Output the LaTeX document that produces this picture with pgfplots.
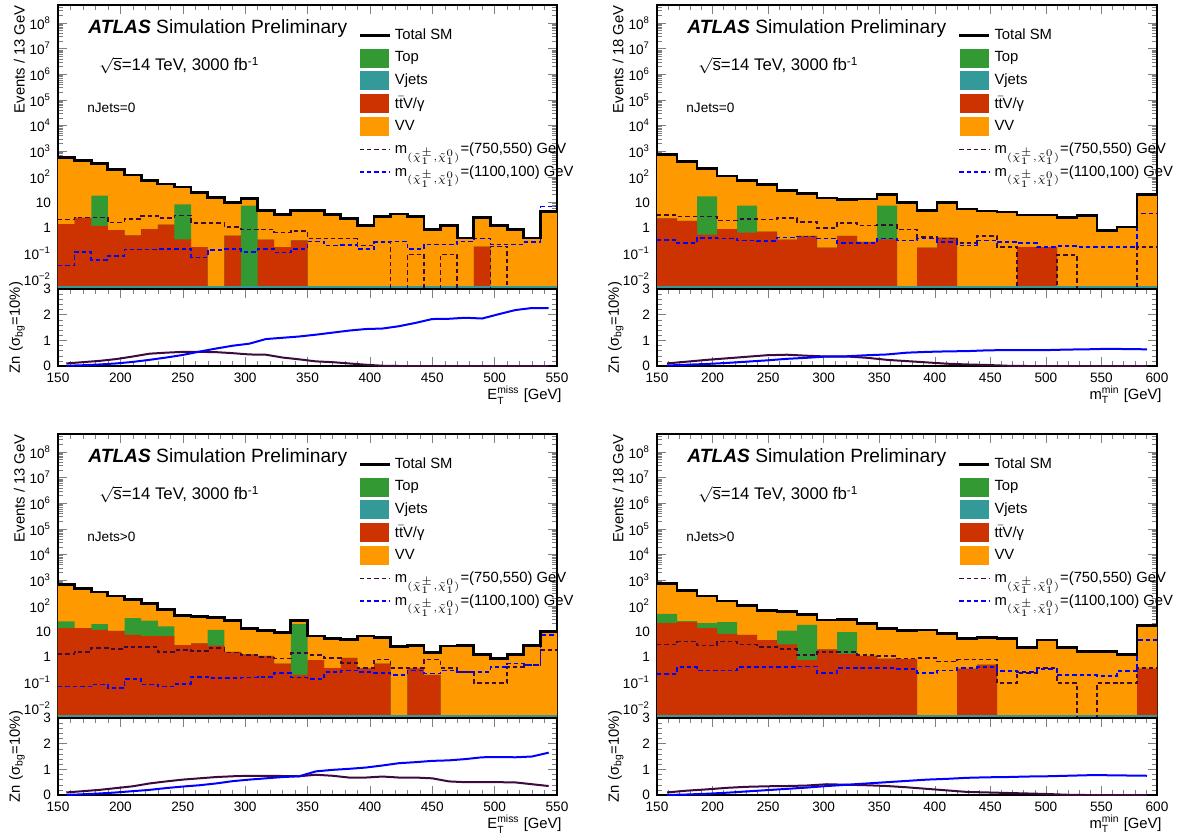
\documentclass[border=0pt]{standalone}
\usepackage{amsmath}
\usepackage{fontspec}
\setmainfont{Liberation Sans}
\usepackage{pgfplots}
\pgfplotsset{compat=1.18}
\usepackage{pgfplotstable}
\pgfkeys{/pgf/number format/assume math mode=true}

\definecolor{cVV}{RGB}{255,153,0}
\definecolor{cTTV}{RGB}{204,51,0}
\definecolor{cTop}{RGB}{51,153,51}
\definecolor{cVj}{RGB}{51,153,153}
\definecolor{cSA}{RGB}{60,10,60}
\definecolor{cSB}{RGB}{0,0,255}

\newcommand{\ex}[1]{10\textsuperscript{#1}}
\newcommand{\fs}[1]{\fontsize{#1}{#1}\selectfont}

\pgfplotstableread{
x tot grn red sa sb
150.00 580 1.41 1.41 2.15 0.035
163.33 430 2.5 2.5 2.6 0.117
176.67 318 18.3 1.22 2.6 0.058
190.00 191 0.82 0.82 1.64 0.081
203.33 118 0.52 0.52 2.2 0.147
216.67 71 0.90 0.90 3.0 0.147
230.00 52 1.37 1.37 2.4 0.15
243.33 40 8.3 0.36 3.1 0.15
256.67 25 0.18 0.18 1.58 0.072
270.00 15.7 1e-5 1e-5 1.58 0.14
283.33 9.7 0.51 0.51 1.11 0.15
296.67 14.3 7.4 1e-5 0.87 0.117
310.00 4.7 0.35 0.35 0.87 0.15
323.33 3.4 0.18 0.18 0.67 0.11
336.67 5.0 0.33 0.33 0.76 0.15
350.00 4.9 1e-5 1e-5 0.39 0.30
363.33 3.4 1e-5 1e-5 0.39 0.21
376.67 2.4 1e-5 1e-5 0.39 0.22
390.00 1.22 1e-5 1e-5 0.21 0.15
403.33 2.9 1e-5 1e-5 0.27 0.28
416.67 3.5 1e-5 1e-5 1e-5 0.30
430.00 2.9 1e-5 1e-5 0.094 0.15
443.33 0.85 1e-5 1e-5 1e-5 0.23
456.67 1.22 1e-5 1e-5 0.094 0.23
470.00 0.41 1e-5 1e-5 1e-5 0.30
483.33 2.5 0.19 0.19 1e-5 0.39
496.67 1.29 1e-5 1e-5 0.19 0.23
510.00 0.88 1e-5 1e-5 1e-5 0.23
523.33 0.41 1e-5 1e-5 1e-5 0.28
536.67 4.3 1e-5 1e-5 1e-5 6.8
550.00 4.3 1e-5 1e-5 1e-5 6.8
}\tabTL

\pgfplotstableread{
x zb zp
156.67 0.01 0.10
170.00 0.03 0.15
183.33 0.06 0.20
196.67 0.10 0.27
210.00 0.16 0.37
223.33 0.24 0.48
236.67 0.33 0.52
250.00 0.43 0.55
263.33 0.56 0.55
276.67 0.68 0.54
290.00 0.79 0.50
303.33 0.87 0.45
316.67 1.05 0.44
330.00 1.10 0.33
343.33 1.15 0.26
356.67 1.22 0.18
370.00 1.30 0.15
383.33 1.38 0.10
396.67 1.44 0.05
410.00 1.46 0.01
423.33 1.55 0
436.67 1.68 0
450.00 1.83 0
463.33 1.84 0
476.67 1.88 0
490.00 1.85 0
503.33 2.02 0
516.67 2.18 0
530.00 2.26 0
543.33 2.26 0
}\znTL

\pgfplotstableread{
x tot grn red sa sb
150 760 2.4 2.4 3.2 0.35
168 380 1.9 1.9 2.8 0.26
186 210 17 0.55 2.8 0.41
204 106 0.9 0.9 2.0 0.39
222 73 7.5 0.66 2.2 0.33
240 49 0.72 0.72 2.15 0.31
258 29 0.35 0.35 2.5 0.42
276 22.5 0.49 0.49 1.76 0.47
294 14.7 0.17 0.17 0.98 0.39
312 12.6 0.49 0.49 1.6 0.26
330 13.6 0.285 0.285 1.25 0.26
348 19.8 7.5 0.36 1.3 0.39
366 10.2 1e-5 1e-5 0.88 0.33
384 5.0 0.17 0.17 0.45 0.39
402 10 0.42 0.42 0.39 0.29
420 5.5 1e-5 1e-5 0.26 0.21
438 4.6 1e-5 1e-5 0.5 0.33
456 4.2 1e-5 1e-5 0.18 0.29
474 3.2 0.18 0.18 1e-5 0.26
492 3.2 0.18 0.18 1e-5 0.18
510 2.6 1e-5 1e-5 0.09 0.2
528 3.0 1e-5 1e-5 1e-5 0.18
546 0.78 1e-5 1e-5 1e-5 0.18
564 1.1 1e-5 1e-5 1e-5 0.18
582 19.8 1e-5 1e-5 0.18 3.7
600 19.8 1e-5 1e-5 0.18 3.7
}\tabTR

\pgfplotstableread{
x zb zp
159 0.02 0.10
177 0.05 0.17
195 0.08 0.24
213 0.12 0.30
231 0.17 0.36
249 0.22 0.42
267 0.28 0.44
285 0.32 0.40
303 0.37 0.37
321 0.38 0.37
339 0.42 0.32
357 0.45 0.24
375 0.52 0.19
393 0.55 0.14
411 0.57 0.09
429 0.58 0.06
447 0.61 0.04
465 0.62 0.01
483 0.62 0
501 0.62 0
519 0.64 0
537 0.65 0
555 0.67 0
573 0.66 0
591 0.65 0
}\znTR

\pgfplotstableread{
x tot grn red sa sb
150.00 690 24.6 13.4 1.29 0.07
163.33 480 13.4 13.4 1.6 0.07
176.67 345 19.2 11.5 2.2 0.084
190.00 240 10.5 10.5 2.1 0.063
203.33 176 33 7.3 2.5 0.14
216.67 119 26 6.6 2.4 0.084
230.00 71 15.6 6.6 1.6 0.072
243.33 42 2.9 2.9 1.9 0.09
256.67 39 3.4 3.4 1.7 0.17
270.00 35 11.5 2.8 2.2 0.15
283.33 27 1.6 1.6 1.5 0.15
296.67 13.4 1.26 1.26 1.2 0.16
310.00 10.8 1.1 1.1 1.02 0.17
323.33 9.0 0.55 0.55 0.87 0.24
336.67 27 19.2 0.2 1.4 0.16
350.00 6.6 0.75 0.75 1.2 0.14
363.33 5.4 0.37 0.37 0.93 0.26
376.67 5.0 0.93 0.93 0.6 0.30
390.00 6.6 0.36 0.36 0.37 0.26
403.33 5.9 0.55 0.55 0.8 0.24
416.67 2.5 1e-5 1e-5 0.38 0.2
430.00 2.9 0.36 0.36 0.38 0.3
443.33 1.5 0.2 0.2 0.8 0.23
456.67 2.7 1e-5 1e-5 0.38 0.3
470.00 2.9 1e-5 1e-5 0.26 0.26
483.33 1.26 1e-5 1e-5 0.095 0.26
496.67 0.87 1e-5 1e-5 0.095 0.41
510.00 1.26 1e-5 1e-5 0.4 0.55
523.33 2.9 1e-5 1e-5 0.5 0.5
536.67 10 1e-5 1e-5 1.9 7.3
550.00 10 1e-5 1e-5 1.9 7.3
}\tabBL

\pgfplotstableread{
x zb zp
156.67 0.00 0.10
170.00 0.03 0.15
183.33 0.06 0.20
196.67 0.10 0.27
210.00 0.15 0.34
223.33 0.20 0.45
236.67 0.27 0.53
250.00 0.33 0.60
263.33 0.38 0.65
276.67 0.45 0.70
290.00 0.54 0.73
303.33 0.60 0.75
316.67 0.65 0.75
330.00 0.70 0.74
343.33 0.73 0.73
356.67 0.92 0.79
370.00 0.98 0.75
383.33 1.02 0.68
396.67 1.07 0.68
410.00 1.15 0.72
423.33 1.24 0.68
436.67 1.28 0.68
450.00 1.33 0.65
463.33 1.35 0.53
476.67 1.40 0.50
490.00 1.47 0.50
503.33 1.48 0.50
516.67 1.47 0.49
530.00 1.50 0.42
543.33 1.65 0.35
}\znBL

\pgfplotstableread{
x tot grn red sa sb
150 760 48 21 3.1 0.22
168 400 25 23 4.0 0.41
186 240 21 13.4 2.8 0.3
204 152 23 8 4.0 0.3
222 102 7.3 7.3 3.1 0.41
240 65 4.6 4.6 2.5 0.41
258 58 10.8 3.1 2.1 0.41
276 45 18 0.75 1.18 0.43
294 28 2.0 2.0 1.6 0.24
312 30 9.3 1.3 1.6 0.38
330 20 1.1 1.1 1.18 0.38
348 13 0.87 0.87 1.1 0.38
366 10.5 0.83 0.83 0.87 0.34
384 11.3 1e-5 1e-5 0.93 0.24
402 8 1e-5 1e-5 0.68 0.3
420 5.1 0.35 0.35 0.8 0.38
438 5.8 0.5 0.5 0.8 0.41
456 5.4 1e-5 1e-5 0.095 0.28
474 2.4 1e-5 1e-5 0.24 0.26
492 4.6 1e-5 1e-5 0.38 0.34
510 2.4 1e-5 1e-5 0.095 0.2
528 1.6 1e-5 1e-5 1e-5 0.2
546 1.6 1e-5 1e-5 0.095 0.18
564 1.26 1e-5 1e-5 0.095 0.28
582 16.5 0.35 0.35 0.38 4.6
600 16.5 0.35 0.35 0.38 4.6
}\tabBR

\pgfplotstableread{
x zb zp
159 0.00 0.10
177 0.02 0.17
195 0.05 0.22
213 0.09 0.28
231 0.14 0.32
249 0.19 0.34
267 0.24 0.35
285 0.29 0.37
303 0.35 0.42
321 0.40 0.40
339 0.45 0.38
357 0.50 0.35
375 0.55 0.30
393 0.60 0.24
411 0.63 0.18
429 0.67 0.12
447 0.69 0.10
465 0.70 0.08
483 0.72 0.06
501 0.73 0.04
519 0.75 0.01
537 0.77 0
555 0.77 0
573 0.76 0
591 0.75 0
}\znBR

\newcommand{\msub}{m$_{\scriptscriptstyle(\tilde{\chi}^{\pm}_{1},\tilde{\chi}^{0}_{1})}$}

\newcommand{\mainextras}[1]{%
  \addlegendimage{legend image code/.code={\draw[black,line width=1.3pt] (0pt,0pt)--(15pt,0pt);}}
  \addlegendentry{Total SM}
  \addlegendimage{legend image code/.code={\fill[cTop] (0.5pt,-4.5pt) rectangle (14.5pt,4.5pt);}}
  \addlegendentry{Top}
  \addlegendimage{legend image code/.code={\fill[cVj] (0.5pt,-4.5pt) rectangle (14.5pt,4.5pt);}}
  \addlegendentry{Vjets}
  \addlegendimage{legend image code/.code={\fill[cTTV] (0.5pt,-4.5pt) rectangle (14.5pt,4.5pt);}}
  \addlegendentry{t$\bar{\text{t}}$V/γ}
  \addlegendimage{legend image code/.code={\fill[cVV] (0.5pt,-4.5pt) rectangle (14.5pt,4.5pt);}}
  \addlegendentry{VV}
  \addlegendimage{legend image code/.code={\draw[cSA,line width=0.8pt,dash pattern=on 2.2pt off 1.5pt] (0pt,0pt)--(15pt,0pt);}}
  \addlegendentry{\msub=(750,550) GeV}
  \addlegendimage{legend image code/.code={\draw[cSB,line width=0.8pt,dash pattern=on 2.2pt off 1.5pt] (0pt,0pt)--(15pt,0pt);}}
  \addlegendentry{\msub=(1100,100) GeV}
  \node[anchor=west, font=\fs{9.6}, inner sep=0pt] at (axis description cs:0.06,0.917) {\textbf{\textit{ATLAS}} Simulation Preliminary};
  \node[anchor=west, font=\fs{8.4}, inner sep=0pt] at (axis description cs:0.082,0.786) {$\sqrt{\text{s}}$=14 TeV, 3000 fb$^{\text{-1}}$};
  \node[anchor=west, font=\fs{6.8}, inner sep=0pt] at (axis description cs:0.058,0.636) {#1};
}

\newcommand{\drawstack}[2]{%
  \addplot[const plot, fill=cVV, draw=none, forget plot] table[x=x,y=tot]{#1} |- (axis cs:150,0.001) -- cycle;
  \addplot[const plot, fill=cTop, draw=none, forget plot] table[x=x,y=grn]{#1} |- (axis cs:150,0.001) -- cycle;
  \addplot[const plot, fill=cTTV, draw=none, forget plot] table[x=x,y=red]{#1} |- (axis cs:150,0.001) -- cycle;
  \addplot[fill=cVj, draw=none, forget plot] coordinates {(150,0.0055) (#2,0.0055)} |- (axis cs:150,0.001) -- cycle;
  \addplot[const plot, forget plot, cSA, line width=0.8pt, dash pattern=on 2.2pt off 1.5pt] table[x=x,y=sa]{#1};
  \addplot[const plot, forget plot, cSB, line width=0.8pt, dash pattern=on 2.2pt off 1.5pt] table[x=x,y=sb]{#1};
  \addplot[const plot, forget plot, black, line width=1.4pt] table[x=x,y=tot]{#1};
}

\begin{document}
\begin{tikzpicture}
\useasboundingbox (0,0) rectangle (589pt,-418pt);

% ===== top left
\begin{axis}[at={(29pt,-2.5pt)}, anchor=north west, width=249.5pt, height=141pt,
  scale only axis, tick align=inside, major tick length=4.5pt, minor tick length=2.3pt,
  axis line style={line width=0.7pt}, tick label style={font=\fs{6.8}}, label style={font=\fs{7.4}},
  xmin=150, xmax=550, xtick={150,200,...,550}, minor x tick num=4, xticklabels={},
  ymode=log, ymin=0.005, ymax=5e8,
  ytick={1e-2,1e-1,1,10,100,1e3,1e4,1e5,1e6,1e7,1e8},
  yticklabels={\ex{−2},\ex{−1},1,10,\ex{2},\ex{3},\ex{4},\ex{5},\ex{6},\ex{7},\ex{8}},
  minor ytick={5e-3,6e-3,7e-3,8e-3,9e-3,2e-2,3e-2,4e-2,5e-2,6e-2,7e-2,8e-2,9e-2,0.2,0.3,0.4,0.5,0.6,0.7,0.8,0.9,2,3,4,5,6,7,8,9,20,30,40,50,60,70,80,90,200,300,400,500,600,700,800,900,2e3,3e3,4e3,5e3,6e3,7e3,8e3,9e3,2e4,3e4,4e4,5e4,6e4,7e4,8e4,9e4,2e5,3e5,4e5,5e5,6e5,7e5,8e5,9e5,2e6,3e6,4e6,5e6,6e6,7e6,8e6,9e6,2e7,3e7,4e7,5e7,6e7,7e7,8e7,9e7,2e8,3e8,4e8},
  ylabel={Events / 13 GeV}, ylabel style={at={(axis description cs:-0.066,1)}, anchor=south east, inner sep=0pt},
  legend style={draw=none, fill=none, at={(axis description cs:0.601,0.932)}, anchor=north west, font=\fs{7.4}, row sep=0.55pt, inner sep=0pt},
  legend cell align=left]
  \drawstack{\tabTL}{550}
  \mainextras{nJets=0}
\end{axis}
\begin{axis}[at={(29pt,-144.5pt)}, anchor=north west, width=249.5pt, height=38.5pt,
  scale only axis, tick align=inside, major tick length=4.5pt, minor tick length=2.3pt,
  axis line style={line width=0.7pt}, tick label style={font=\fs{6.8}}, label style={font=\fs{7.4}},
  xmin=150, xmax=550, xtick={150,200,...,550}, minor x tick num=4,
  ymin=0, ymax=3, ytick={0,1,2,3}, minor y tick num=4,
  ylabel={Zn (σ\textsubscript{bg}=10\%)}, ylabel style={at={(axis description cs:-0.066,0.5)}, anchor=south, inner sep=0pt},
  xlabel={E$_{\text{T}}^{\text{miss}}$ [GeV]}, xlabel style={at={(axis description cs:1.01,0)}, anchor=north east, yshift=-10pt, inner sep=0pt}]
  \addplot[cSA, line width=1pt] table[x=x,y=zp]{\znTL};
  \addplot[cSB, line width=1pt] table[x=x,y=zb]{\znTL};
\end{axis}

% ===== top right
\begin{axis}[at={(328.5pt,-2.5pt)}, anchor=north west, width=250pt, height=141pt,
  scale only axis, tick align=inside, major tick length=4.5pt, minor tick length=2.3pt,
  axis line style={line width=0.7pt}, tick label style={font=\fs{6.8}}, label style={font=\fs{7.4}},
  xmin=150, xmax=600, xtick={150,200,...,600}, minor x tick num=4, xticklabels={},
  ymode=log, ymin=0.005, ymax=5e8,
  ytick={1e-2,1e-1,1,10,100,1e3,1e4,1e5,1e6,1e7,1e8},
  yticklabels={\ex{−2},\ex{−1},1,10,\ex{2},\ex{3},\ex{4},\ex{5},\ex{6},\ex{7},\ex{8}},
  minor ytick={5e-3,6e-3,7e-3,8e-3,9e-3,2e-2,3e-2,4e-2,5e-2,6e-2,7e-2,8e-2,9e-2,0.2,0.3,0.4,0.5,0.6,0.7,0.8,0.9,2,3,4,5,6,7,8,9,20,30,40,50,60,70,80,90,200,300,400,500,600,700,800,900,2e3,3e3,4e3,5e3,6e3,7e3,8e3,9e3,2e4,3e4,4e4,5e4,6e4,7e4,8e4,9e4,2e5,3e5,4e5,5e5,6e5,7e5,8e5,9e5,2e6,3e6,4e6,5e6,6e6,7e6,8e6,9e6,2e7,3e7,4e7,5e7,6e7,7e7,8e7,9e7,2e8,3e8,4e8},
  ylabel={Events / 18 GeV}, ylabel style={at={(axis description cs:-0.066,1)}, anchor=south east, inner sep=0pt},
  legend style={draw=none, fill=none, at={(axis description cs:0.601,0.932)}, anchor=north west, font=\fs{7.4}, row sep=0.55pt, inner sep=0pt},
  legend cell align=left]
  \drawstack{\tabTR}{600}
  \mainextras{nJets=0}
\end{axis}
\begin{axis}[at={(328.5pt,-144.5pt)}, anchor=north west, width=250pt, height=38.5pt,
  scale only axis, tick align=inside, major tick length=4.5pt, minor tick length=2.3pt,
  axis line style={line width=0.7pt}, tick label style={font=\fs{6.8}}, label style={font=\fs{7.4}},
  xmin=150, xmax=600, xtick={150,200,...,600}, minor x tick num=4,
  ymin=0, ymax=3, ytick={0,1,2,3}, minor y tick num=4,
  ylabel={Zn (σ\textsubscript{bg}=10\%)}, ylabel style={at={(axis description cs:-0.066,0.5)}, anchor=south, inner sep=0pt},
  xlabel={m$_{\text{T}}^{\text{min}}$ [GeV]}, xlabel style={at={(axis description cs:1.01,0)}, anchor=north east, yshift=-10pt, inner sep=0pt}]
  \addplot[cSA, line width=1pt] table[x=x,y=zp]{\znTR};
  \addplot[cSB, line width=1pt] table[x=x,y=zb]{\znTR};
\end{axis}

% ===== bottom left
\begin{axis}[at={(29pt,-217pt)}, anchor=north west, width=249.5pt, height=141pt,
  scale only axis, tick align=inside, major tick length=4.5pt, minor tick length=2.3pt,
  axis line style={line width=0.7pt}, tick label style={font=\fs{6.8}}, label style={font=\fs{7.4}},
  xmin=150, xmax=550, xtick={150,200,...,550}, minor x tick num=4, xticklabels={},
  ymode=log, ymin=0.005, ymax=5e8,
  ytick={1e-2,1e-1,1,10,100,1e3,1e4,1e5,1e6,1e7,1e8},
  yticklabels={\ex{−2},\ex{−1},1,10,\ex{2},\ex{3},\ex{4},\ex{5},\ex{6},\ex{7},\ex{8}},
  minor ytick={5e-3,6e-3,7e-3,8e-3,9e-3,2e-2,3e-2,4e-2,5e-2,6e-2,7e-2,8e-2,9e-2,0.2,0.3,0.4,0.5,0.6,0.7,0.8,0.9,2,3,4,5,6,7,8,9,20,30,40,50,60,70,80,90,200,300,400,500,600,700,800,900,2e3,3e3,4e3,5e3,6e3,7e3,8e3,9e3,2e4,3e4,4e4,5e4,6e4,7e4,8e4,9e4,2e5,3e5,4e5,5e5,6e5,7e5,8e5,9e5,2e6,3e6,4e6,5e6,6e6,7e6,8e6,9e6,2e7,3e7,4e7,5e7,6e7,7e7,8e7,9e7,2e8,3e8,4e8},
  ylabel={Events / 13 GeV}, ylabel style={at={(axis description cs:-0.066,1)}, anchor=south east, inner sep=0pt},
  legend style={draw=none, fill=none, at={(axis description cs:0.601,0.932)}, anchor=north west, font=\fs{7.4}, row sep=0.55pt, inner sep=0pt},
  legend cell align=left]
  \drawstack{\tabBL}{550}
  \mainextras{nJets>0}
\end{axis}
\begin{axis}[at={(29pt,-359pt)}, anchor=north west, width=249.5pt, height=38.5pt,
  scale only axis, tick align=inside, major tick length=4.5pt, minor tick length=2.3pt,
  axis line style={line width=0.7pt}, tick label style={font=\fs{6.8}}, label style={font=\fs{7.4}},
  xmin=150, xmax=550, xtick={150,200,...,550}, minor x tick num=4,
  ymin=0, ymax=3, ytick={0,1,2,3}, minor y tick num=4,
  ylabel={Zn (σ\textsubscript{bg}=10\%)}, ylabel style={at={(axis description cs:-0.066,0.5)}, anchor=south, inner sep=0pt},
  xlabel={E$_{\text{T}}^{\text{miss}}$ [GeV]}, xlabel style={at={(axis description cs:1.01,0)}, anchor=north east, yshift=-10pt, inner sep=0pt}]
  \addplot[cSA, line width=1pt] table[x=x,y=zp]{\znBL};
  \addplot[cSB, line width=1pt] table[x=x,y=zb]{\znBL};
\end{axis}

% ===== bottom right
\begin{axis}[at={(328.5pt,-217pt)}, anchor=north west, width=250pt, height=141pt,
  scale only axis, tick align=inside, major tick length=4.5pt, minor tick length=2.3pt,
  axis line style={line width=0.7pt}, tick label style={font=\fs{6.8}}, label style={font=\fs{7.4}},
  xmin=150, xmax=600, xtick={150,200,...,600}, minor x tick num=4, xticklabels={},
  ymode=log, ymin=0.005, ymax=5e8,
  ytick={1e-2,1e-1,1,10,100,1e3,1e4,1e5,1e6,1e7,1e8},
  yticklabels={\ex{−2},\ex{−1},1,10,\ex{2},\ex{3},\ex{4},\ex{5},\ex{6},\ex{7},\ex{8}},
  minor ytick={5e-3,6e-3,7e-3,8e-3,9e-3,2e-2,3e-2,4e-2,5e-2,6e-2,7e-2,8e-2,9e-2,0.2,0.3,0.4,0.5,0.6,0.7,0.8,0.9,2,3,4,5,6,7,8,9,20,30,40,50,60,70,80,90,200,300,400,500,600,700,800,900,2e3,3e3,4e3,5e3,6e3,7e3,8e3,9e3,2e4,3e4,4e4,5e4,6e4,7e4,8e4,9e4,2e5,3e5,4e5,5e5,6e5,7e5,8e5,9e5,2e6,3e6,4e6,5e6,6e6,7e6,8e6,9e6,2e7,3e7,4e7,5e7,6e7,7e7,8e7,9e7,2e8,3e8,4e8},
  ylabel={Events / 18 GeV}, ylabel style={at={(axis description cs:-0.066,1)}, anchor=south east, inner sep=0pt},
  legend style={draw=none, fill=none, at={(axis description cs:0.601,0.932)}, anchor=north west, font=\fs{7.4}, row sep=0.55pt, inner sep=0pt},
  legend cell align=left]
  \drawstack{\tabBR}{600}
  \mainextras{nJets>0}
\end{axis}
\begin{axis}[at={(328.5pt,-359pt)}, anchor=north west, width=250pt, height=38.5pt,
  scale only axis, tick align=inside, major tick length=4.5pt, minor tick length=2.3pt,
  axis line style={line width=0.7pt}, tick label style={font=\fs{6.8}}, label style={font=\fs{7.4}},
  xmin=150, xmax=600, xtick={150,200,...,600}, minor x tick num=4,
  ymin=0, ymax=3, ytick={0,1,2,3}, minor y tick num=4,
  ylabel={Zn (σ\textsubscript{bg}=10\%)}, ylabel style={at={(axis description cs:-0.066,0.5)}, anchor=south, inner sep=0pt},
  xlabel={m$_{\text{T}}^{\text{min}}$ [GeV]}, xlabel style={at={(axis description cs:1.01,0)}, anchor=north east, yshift=-10pt, inner sep=0pt}]
  \addplot[cSA, line width=1pt] table[x=x,y=zp]{\znBR};
  \addplot[cSB, line width=1pt] table[x=x,y=zb]{\znBR};
\end{axis}
\end{tikzpicture}
\end{document}
